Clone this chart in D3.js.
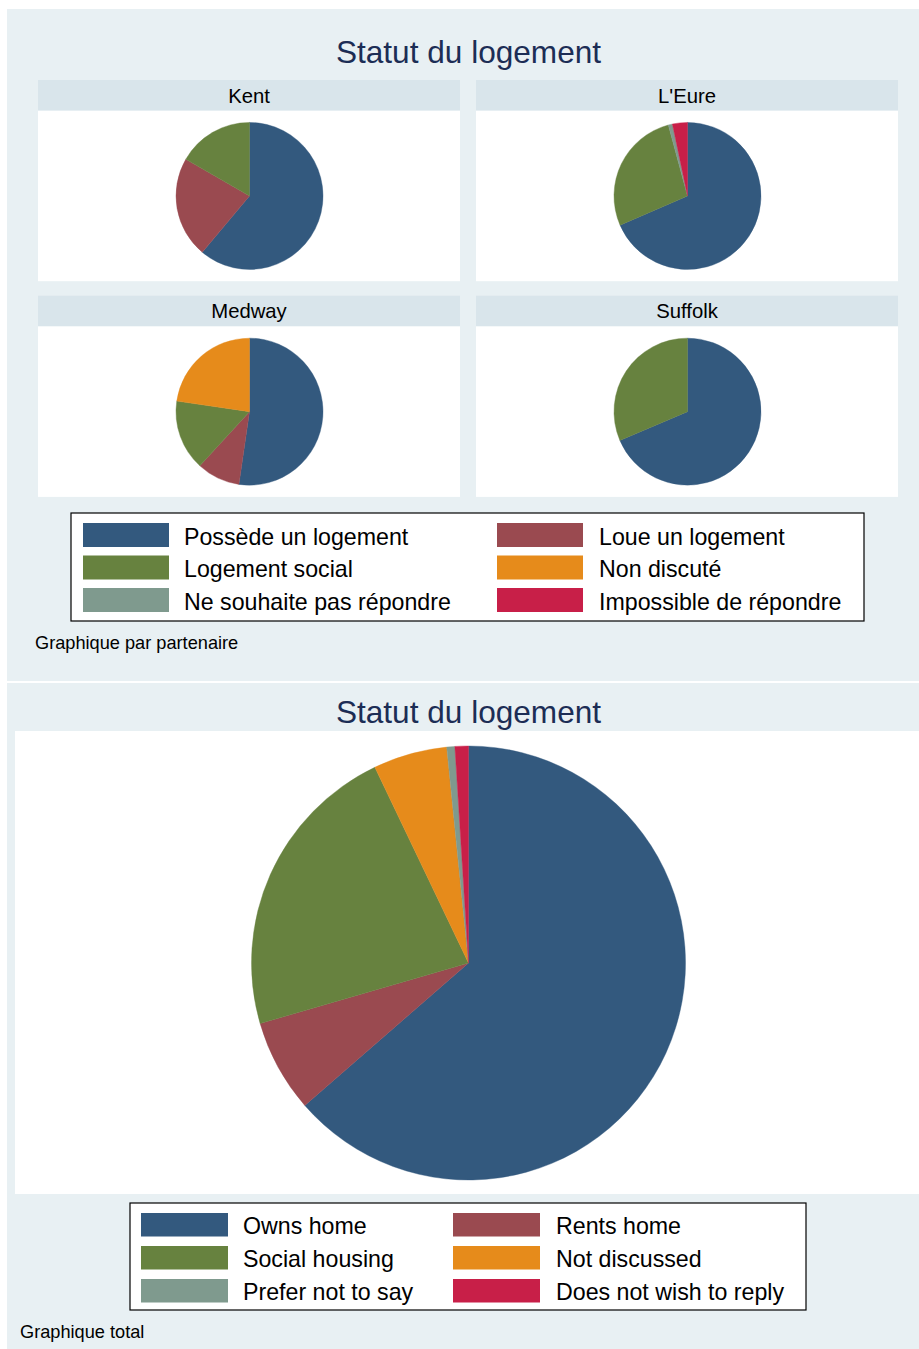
<!DOCTYPE html>
<html>
<head>
<meta charset="utf-8">
<script src="https://cdn.jsdelivr.net/npm/d3@7"></script>
<style>
  html, body { margin: 0; padding: 0; background: #ffffff; }
  svg { display: block; font-family: "Liberation Sans", Arial, Helvetica, sans-serif; }
</style>
</head>
<body>
<svg id="chart" width="919" height="1349"></svg>
<script>
// Housing status categories (French labels for the by-partner graph, English for the total)
const categoriesFr = ["Possède un logement", "Loue un logement", "Logement social",
                      "Non discuté", "Ne souhaite pas répondre", "Impossible de répondre"];
const categoriesEn = ["Owns home", "Rents home", "Social housing",
                      "Not discussed", "Prefer not to say", "Does not wish to reply"];
const sliceColors = ["#33597e", "#9a4a50", "#67823f", "#e68b1b", "#7f9a8e", "#c81f48"];

// Share of respondents (%) per partner, in category order
const partners = ["Kent", "L'Eure", "Medway", "Suffolk"];
const kentValues    = [61.1, 22.2, 16.7, 0,    0,   0];
const eureValues    = [68.5, 0,    27.3, 0,    0.9, 3.3];
const medwayValues  = [52.3, 9.5,  15.5, 22.7, 0,   0];
const suffolkValues = [68.6, 0,    31.4, 0,    0,   0];
const partnerValues = [kentValues, eureValues, medwayValues, suffolkValues];

// Share of respondents (%) across all partners
const totalValues = [63.6, 6.9, 22.4, 5.5, 0.6, 1.0];

const mainTitle = "Statut du logement";
const noteByPartner = "Graphique par partenaire";
const noteTotal = "Graphique total";

(function () {
  const svg = d3.select("#chart");
  const panelBg = "#e8f0f3";
  const stripBg = "#d9e5eb";
  const titleColor = "#1c2d55";

  const pie = d3.pie().sort(null).value(d => d.value).startAngle(0).endAngle(2 * Math.PI);
  const color = d3.scaleOrdinal().domain(d3.range(categoriesFr.length)).range(sliceColors);

  function drawPie(g, values, radius) {
    const arc = d3.arc().innerRadius(0).outerRadius(radius);
    const data = values.map((v, i) => ({ value: v, index: i }));
    g.selectAll("path")
      .data(pie(data).filter(d => d.data.value > 0))
      .join("path")
      .attr("d", arc)
      .attr("fill", d => color(d.data.index))
      .attr("stroke", d => color(d.data.index))
      .attr("stroke-width", 0.4);
  }

  function drawLegend(g, labels, box, cols) {
    g.append("rect")
      .attr("x", box.x).attr("y", box.y)
      .attr("width", box.w).attr("height", box.h)
      .attr("fill", "#ffffff").attr("stroke", "#000000").attr("stroke-width", 1.2);
    labels.forEach((lab, i) => {
      const col = i % 2, row = Math.floor(i / 2);
      const sy = box.rowY + row * box.pitch;
      g.append("rect")
        .attr("x", cols[col].sx).attr("y", sy)
        .attr("width", box.sw).attr("height", box.sh)
        .attr("fill", color(i));
      g.append("text")
        .attr("x", cols[col].tx).attr("y", sy + box.sh / 2 + 9.5)
        .attr("font-size", 23.2).attr("fill", "#000000")
        .text(lab);
    });
  }

  // ---------- Graph by partner ----------
  const upper = svg.append("g");
  upper.append("rect").attr("x", 7).attr("y", 9).attr("width", 912).attr("height", 672).attr("fill", panelBg);
  upper.append("text").attr("x", 468.5).attr("y", 62.5).attr("text-anchor", "middle")
    .attr("font-size", 31.6).attr("fill", titleColor).text(mainTitle);

  const cellX = [38, 476];
  const cellY = [80, 295.7];
  const cellW = 422, stripH = 30.7, plotH = 170.5;

  partners.forEach((name, k) => {
    const cx = cellX[k % 2], cy = cellY[Math.floor(k / 2)];
    const cell = upper.append("g");
    cell.append("rect").attr("x", cx).attr("y", cy).attr("width", cellW).attr("height", stripH).attr("fill", stripBg);
    cell.append("text").attr("x", cx + cellW / 2).attr("y", cy + 22.5).attr("text-anchor", "middle")
      .attr("font-size", 20.3).attr("fill", "#000000").text(name);
    cell.append("rect").attr("x", cx).attr("y", cy + stripH).attr("width", cellW).attr("height", plotH).attr("fill", "#ffffff");
    const pg = cell.append("g").attr("transform", `translate(${cx + cellW / 2 + 0.5},${cy + stripH + plotH / 2})`);
    drawPie(pg, partnerValues[k], 73.5);
  });

  drawLegend(upper.append("g"), categoriesFr,
    { x: 71, y: 513, w: 793, h: 108, rowY: 523, pitch: 32.5, sw: 86, sh: 24 },
    [{ sx: 83, tx: 184 }, { sx: 497, tx: 599 }]);

  upper.append("text").attr("x", 35).attr("y", 649).attr("font-size", 18.2).attr("fill", "#000000").text(noteByPartner);

  // ---------- Total graph ----------
  const lower = svg.append("g");
  lower.append("rect").attr("x", 7).attr("y", 683).attr("width", 912).attr("height", 666).attr("fill", panelBg);
  lower.append("text").attr("x", 468.5).attr("y", 722.5).attr("text-anchor", "middle")
    .attr("font-size", 31.6).attr("fill", titleColor).text(mainTitle);
  lower.append("rect").attr("x", 15).attr("y", 731).attr("width", 904).attr("height", 463).attr("fill", "#ffffff");
  drawPie(lower.append("g").attr("transform", "translate(468.5,963)"), totalValues, 217);

  drawLegend(lower.append("g"), categoriesEn,
    { x: 130, y: 1203, w: 676, h: 107, rowY: 1213, pitch: 33, sw: 87, sh: 23.5 },
    [{ sx: 141, tx: 243 }, { sx: 453, tx: 556 }]);

  lower.append("text").attr("x", 20).attr("y", 1338).attr("font-size", 18.2).attr("fill", "#000000").text(noteTotal);
})();
</script>
</body>
</html>
